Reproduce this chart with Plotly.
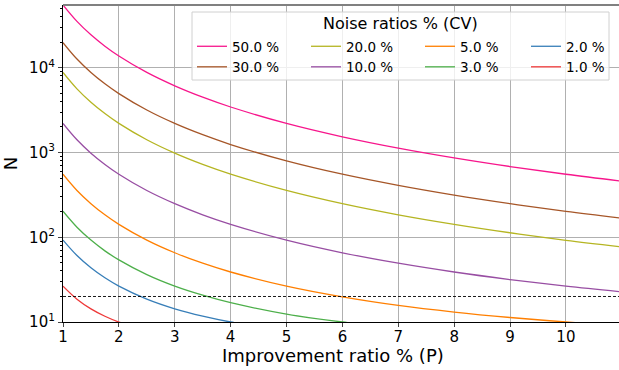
import plotly.graph_objects as go
import math

# Improvement ratio % (P)
P = [1, 1.25, 1.5, 1.75, 2, 2.5, 3, 3.5, 4, 5, 6, 7, 8, 9, 10, 11]

# N for each noise ratio (CV)
N_50 = [55004, 35204, 24449, 17963, 13754, 8804, 6116, 4494, 3442, 2204, 1532, 1127, 864, 683, 554, 459]
N_30 = [19804, 12676, 8804, 6469, 4954, 3172, 2204, 1621, 1242, 796, 554, 409, 314, 249, 202, 168]
N_20 = [8804, 5636, 3916, 2878, 2204, 1412, 982, 723, 555, 357, 249, 184, 142, 113, 92, 77]
N_10 = [2204, 1412, 982, 723, 554, 356, 249, 184, 142, 92.5, 65.6, 49.4, 38.9, 31.7, 26.5, 22.7]
N_5 = [554.5, 356.5, 249, 184, 142, 92.5, 65.6, 49.4, 38.9, 26.5, 19.8, 15.7, 13.1, 11.3, 10.0, 9.0]
N_3 = [202.5, 131.2, 92.5, 69.1, 54.0, 36.2, 26.5, 20.7, 16.9, 12.4, 10.0, 8.5, 7.6, 6.9, 6.5, 6.1]
N_2 = [92.5, 60.8, 43.6, 33.2, 26.5, 18.6, 14.3, 11.7, 10.0, 8.0, 6.9, 6.3, 5.9, 5.6, 5.4, 5.2]
N_1 = [26.5, 18.6, 14.3, 11.7, 10.0, 8.0, 6.9, 6.3, 5.9, 5.4, 5.1, 5.0, 4.8, 4.8, 4.7, 4.7]

labels = ["50.0 %", "30.0 %", "20.0 %", "10.0 %", "5.0 %", "3.0 %", "2.0 %", "1.0 %"]
series = [N_50, N_30, N_20, N_10, N_5, N_3, N_2, N_1]
colors = ["#f7168c", "#a65628", "#b5b522", "#984ea3", "#ff7f00", "#4daf4a", "#377eb8", "#ee3838"]
# legend columns (2 entries each, column-major like the reference)
legend_ids = ["legend", "legend", "legend2", "legend2", "legend3", "legend3", "legend4", "legend4"]

threshold = 20
x_range = [1, 10.95]
y_ticks = [10, 100, 1000, 10000]
y_ticktext = ["10<sup>1</sup>", "10<sup>2</sup>", "10<sup>3</sup>", "10<sup>4</sup>"]
x_ticks = [1, 2, 3, 4, 5, 6, 7, 8, 9, 10]

FONT = "DejaVu Sans"
L, T, W, H = 63, 5, 556, 317  # plot area in px


def px_x(px):
    return (px - L) / W


def px_y(py):
    return 1 - (py - T) / H


fig = go.Figure()
for lab, ys, col, lg in zip(labels, series, colors, legend_ids):
    fig.add_trace(go.Scatter(x=P, y=ys, mode="lines", name=lab, legend=lg,
                             line=dict(color=col, width=1.3, shape="spline", smoothing=1.0)))

fig.add_trace(go.Scatter(x=[x_range[0], x_range[1] + 0.1], y=[threshold, threshold], mode="lines",
                         line=dict(color="black", width=0.9, dash="3px,2px"), showlegend=False))

leg_common = dict(orientation="v", xanchor="left", yanchor="top", bgcolor="rgba(0,0,0,0)",
                  borderwidth=0, font=dict(size=13.5), itemwidth=30, tracegroupgap=0)
col_x = [192, 306, 420, 526]
legends = {}
for i, nm in enumerate(["legend", "legend2", "legend3", "legend4"]):
    legends[nm] = dict(x=px_x(col_x[i]), y=px_y(31), **leg_common)

fig.update_layout(
    width=619, height=370,
    margin=dict(l=L, r=0, t=T, b=48),
    paper_bgcolor="white", plot_bgcolor="white",
    font=dict(family=FONT, color="black", size=15),
    xaxis=dict(range=x_range, tickvals=x_ticks, showgrid=True, gridcolor="#b0b0b0", gridwidth=1,
               showline=True, linecolor="black", linewidth=1.2, ticks="outside", ticklen=4,
               ticklabelstandoff=-3, tickfont=dict(size=15), zeroline=False),
    yaxis=dict(type="log", range=[1, math.log10(max(N_50))], tickvals=y_ticks, ticktext=y_ticktext,
               showgrid=True, gridcolor="#b0b0b0", gridwidth=1,
               showline=True, linecolor="black", linewidth=1.2, ticks="outside", ticklen=4,
               tickfont=dict(size=15),
               minor=dict(ticks="outside", ticklen=2, tickcolor="black", dtick="D1", showgrid=False),
               title=dict(text="N", font=dict(size=18), standoff=8)),
    showlegend=True,
    annotations=[
        dict(text="Improvement ratio % (P)", xref="paper", yref="paper",
             x=px_x(333), y=px_y(355), xanchor="center", yanchor="middle",
             showarrow=False, font=dict(size=18)),
        dict(text="Noise ratios % (CV)", xref="paper", yref="paper",
             x=px_x(400), y=px_y(24), xanchor="center", yanchor="middle",
             showarrow=False, font=dict(size=16)),
    ],
    shapes=[
        dict(type="rect", xref="paper", yref="paper", x0=px_x(192), x1=px_x(609),
             y0=px_y(80), y1=px_y(12), fillcolor="rgba(255,255,255,0.8)",
             line=dict(color="#d0d0d0", width=1), layer="above"),
        dict(type="line", xref="paper", yref="paper", x0=0, x1=1, y0=1, y1=1,
             line=dict(color="#808080", width=2)),
    ],
    **legends,
)

fig.write_html("out.html")
